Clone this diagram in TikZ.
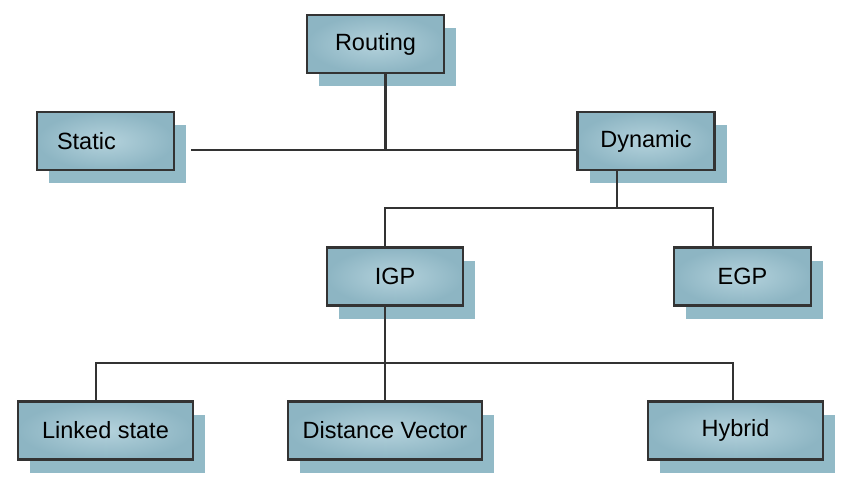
\documentclass[tikz,border=0pt]{standalone}
\usepackage{fontspec}
\setmainfont{Liberation Sans}
\usetikzlibrary{shadows}
\definecolor{boxin}{HTML}{B4D2DC}
\definecolor{boxout}{HTML}{8DB5C3}
\definecolor{shadowc}{HTML}{92BAC7}
\definecolor{edge}{HTML}{333333}
\begin{document}
\begin{tikzpicture}[x=1pt,y=-1pt,
  box/.style={draw=edge, line width=2.9pt, shading=radial, inner color=boxin, outer color=boxout,
    minimum height=58pt, inner sep=0pt, font=\fontsize{23.5}{28}\selectfont,
    drop shadow={shadow xshift=12pt, shadow yshift=-13pt, fill=shadowc, opacity=1}},
  conn/.style={draw=edge, line width=2.7pt}]
\useasboundingbox (0,0) rectangle (850,485);
\node[box, minimum width=137pt] (routing) at (375.5,44) {Routing};
\node[box, text width=97pt, inner xsep=20pt, align=left] (static) at (105.5,141) {Static};
\node[box, minimum width=137pt] (dynamic) at (646,141) {Dynamic};
\node[box, minimum width=136pt] (igp) at (395,276.5) {IGP};
\node[box, minimum width=137pt] (egp) at (742.5,276.5) {EGP};
\node[box, minimum width=175pt] (linked) at (105.5,430.5) {Linked state};
\node[box, minimum width=194pt] (dv) at (385,430.5) {Distance Vector};
\node[box, minimum width=175pt] (hybrid) at (735.5,430.5) {Hybrid};
\coordinate (j1) at (385.5,150);
\coordinate (sl) at (191,150);
\coordinate (j2) at (617,208);
\coordinate (j3) at (385,363);
\draw[conn] (routing.south -| j1) -- (j1);
\draw[conn] (sl) -- (dynamic.west |- sl);
\draw[conn] (dynamic.south -| j2) -- (j2);
\draw[conn] (igp.north -| j3) |- (j2) -| ([xshift=-29.5pt]egp.north);
\draw[conn] (igp.south -| j3) -- (j3);
\draw[conn] (linked.north -| 96,0) |- (j3) -| ([xshift=-2.5pt]hybrid.north);
\draw[conn] (j3) -- (dv.north -| j3);
\end{tikzpicture}
\end{document}
